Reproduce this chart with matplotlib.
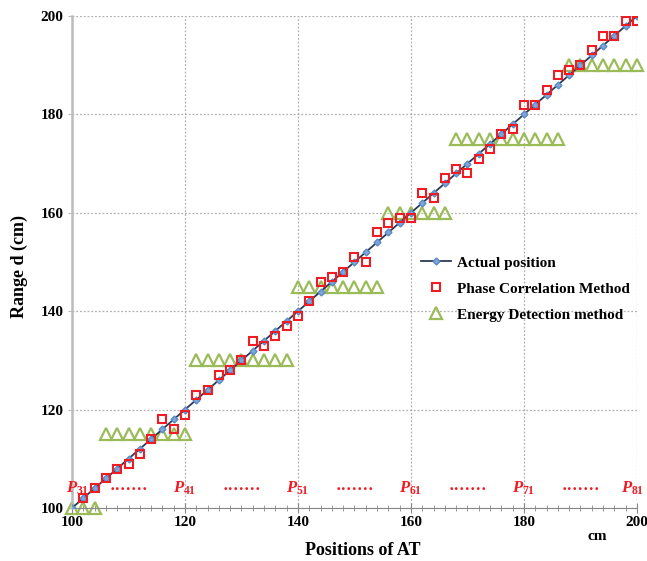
import matplotlib.pyplot as plt
from matplotlib.ticker import MultipleLocator

# actual position (every 2 cm)
actual_x = list(range(100, 201, 2))
actual_y = list(range(100, 201, 2))

# phase correlation method estimates
phase_x = list(range(102, 201, 2))
phase_y = [102, 104, 106, 108, 109, 111, 114, 118, 116, 119,
           123, 124, 127, 128, 130, 134, 133, 135, 137, 139,
           142, 146, 147, 148, 151, 150, 156, 158, 159, 159,
           164, 163, 167, 169, 168, 171, 173, 176, 177, 182,
           182, 185, 188, 189, 190, 193, 196, 196, 199, 199]

# energy detection method (stepwise)
energy_x = list(range(100, 201, 2))
energy_y = ([100] * 3 + [115] * 8 + [130] * 9 + [145] * 8 +
            [160] * 6 + [175] * 10 + [190] * 7)

p_labels = ["31", "41", "51", "61", "71", "81"]
p_pos = [101, 120, 140, 160, 180, 199.3]
dots_pos = [110, 130, 150, 170, 190]

plt.rcParams['font.family'] = ['Liberation Serif', 'DejaVu Serif']
plt.rcParams['mathtext.fontset'] = 'custom'
plt.rcParams['mathtext.it'] = 'Liberation Serif:italic:bold'
plt.rcParams['mathtext.rm'] = 'Liberation Serif:bold'

fig = plt.figure(figsize=(6.47, 5.61), dpi=100)
ax = fig.add_axes([0.1113, 0.0945, 0.8732, 0.877])

ax.plot(energy_x, energy_y, linestyle='none', marker='^', ms=9,
        mfc='none', mec='#9BBB59', mew=1.6, clip_on=False, zorder=2,
        label="Energy Detection method")
ax.plot(actual_x, actual_y, color='#2B3A55', lw=1.3, marker='D', ms=3.5,
        mfc='#7FA6D6', mec='#5B8AC6', zorder=3, label="Actual position")
ax.plot(phase_x, phase_y, linestyle='none', marker='s', ms=6,
        mfc='none', mec='#EE1C25', mew=1.5, zorder=4,
        label="Phase Correlation Method")

for lab, xp in zip(p_labels, p_pos):
    ax.text(xp, 104, r"$\mathit{P}_{\mathit{" + lab + "}}$",
            color='#EE1C25', ha='center', va='center', fontsize=12)
for xp in dots_pos:
    ax.text(xp, 103.6, "·······", color='#EE1C25', ha='center',
            va='center', fontsize=12, fontweight='bold')

ax.set_xlim(100, 200)
ax.set_ylim(100, 200)
ax.xaxis.set_major_locator(MultipleLocator(20))
ax.xaxis.set_minor_locator(MultipleLocator(2))
ax.yaxis.set_major_locator(MultipleLocator(20))
ax.grid(True, which='major', linestyle=(0, (1.5, 1.5)), color='#B0B0B0', lw=0.9)

for s in ['top', 'right']:
    ax.spines[s].set_visible(False)
ax.spines['left'].set_color('#BBBBBB')
ax.spines['left'].set_linewidth(1.8)
ax.spines['bottom'].set_color('#888888')

ax.tick_params(axis='x', which='major', direction='inout', length=7,
               color='#888888', labelsize=11, pad=2)
ax.tick_params(axis='x', which='minor', direction='inout', length=4,
               color='#888888')
ax.tick_params(axis='y', which='major', direction='out', length=3,
               color='#BBBBBB', labelsize=11, pad=3)
for t in ax.get_xticklabels() + ax.get_yticklabels():
    t.set_fontweight('bold')

ax.set_xlabel("Positions of AT", fontsize=13, fontweight='bold')
ax.xaxis.set_label_coords(0.515, -0.07)
ax.set_ylabel("Range d (cm)", fontsize=13, fontweight='bold')
ax.yaxis.set_label_coords(-0.078, 0.49)
ax.text(0.93, -0.058, "cm", transform=ax.transAxes, fontsize=11,
        fontweight='bold', ha='center', va='center')

h, l = ax.get_legend_handles_labels()
order = [1, 2, 0]
ax.legend([h[i] for i in order], [l[i] for i in order], loc='upper left',
          bbox_to_anchor=(0.593, 0.54), frameon=False, handlelength=2,
          handletextpad=0.4, prop={'weight': 'bold', 'size': 11},
          labelspacing=0.8)

fig.savefig("out.png", dpi=100)
